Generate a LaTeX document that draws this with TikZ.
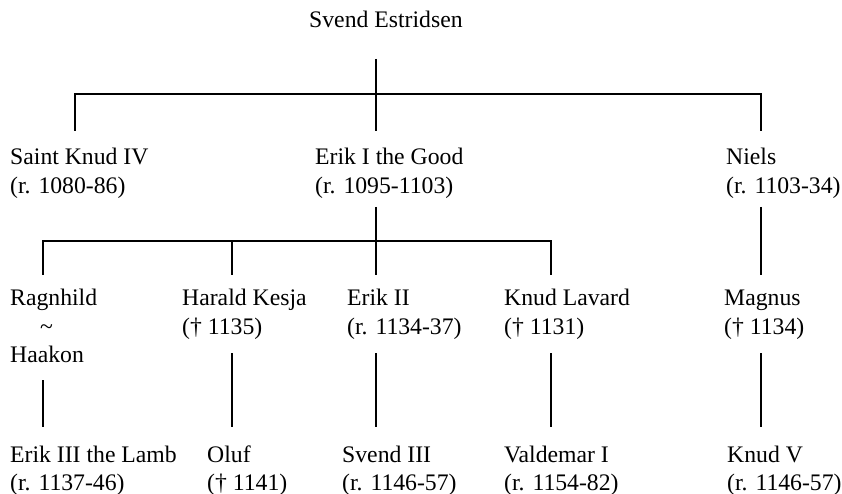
\documentclass[tikz,border=0pt]{standalone}
\usepackage{fontspec}
\setmainfont{Liberation Serif}
% stacked lines whose reference point is the baseline of the first line
\newcommand\famlines[1]{\begin{tabular}[t]{@{}l@{}}#1\end{tabular}}
\begin{document}
\begin{tikzpicture}[x=1bp, y=-1bp,
  person/.style={anchor=base west, inner sep=0pt,
    font=\fontsize{23.8}{28.5}\selectfont},
  link/.style={line width=2bp, line join=miter, line cap=butt}]
  \fill[white] (0,0) rectangle (842,494);
  \useasboundingbox (0,0) rectangle (842,494);

  % generation 0
  \node[person] (svend) at (309,28) {Svend Estridsen};

  % generation 1
  \node[person] (knud4)  at (10,165)  {\famlines{Saint Knud IV\\(r. 1080-86)}};
  \node[person] (erik1)  at (315,165) {\famlines{Erik I the Good\\(r. 1095-1103)}};
  \node[person] (niels)  at (726,165) {\famlines{Niels\\(r. 1103-34)}};

  % generation 2
  \node[person] (ragn)   at (10,306)  {\famlines{Ragnhild\\\hspace*{30bp}\char"7E\\Haakon}};
  \node[person] (harald) at (182,306) {\famlines{Harald Kesja\\(† 1135)}};
  \node[person] (erik2)  at (347,306) {\famlines{Erik II\\(r. 1134-37)}};
  \node[person] (lavard) at (504,306) {\famlines{Knud Lavard\\(† 1131)}};
  \node[person] (magnus) at (724,306) {\famlines{Magnus\\(† 1134)}};

  % generation 3
  \node[person] (erik3)  at (10,462)  {\famlines{Erik III the Lamb\\(r. 1137-46)}};
  \node[person] (oluf)   at (207,462) {\famlines{Oluf\\(† 1141)}};
  \node[person] (svend3) at (342,462) {\famlines{Svend III\\(r. 1146-57)}};
  \node[person] (valdemar) at (504,462) {\famlines{Valdemar I\\(r. 1154-82)}};
  \node[person] (knud5)  at (727,462) {\famlines{Knud V\\(r. 1146-57)}};

  % line end points
  \coordinate (svendB) at (376,59);
  \coordinate (knud4T) at (75,131);
  \coordinate (erik1T) at (376,131);
  \coordinate (nielsT) at (761,131);
  \coordinate (erik1B) at (376,207);
  \coordinate (nielsB) at (761,207);
  \coordinate (ragnT)  at (43,275);
  \coordinate (haraldT) at (232,275);
  \coordinate (erik2T) at (376,275);
  \coordinate (lavardT) at (551,275);
  \coordinate (magnusT) at (761,275);
  \coordinate (ragnB)  at (43,380);
  \coordinate (haraldB) at (232,353);
  \coordinate (erik2B) at (376,353);
  \coordinate (lavardB) at (551,353);
  \coordinate (magnusB) at (761,353);
  \coordinate (erik3T) at (43,427);
  \coordinate (olufT)  at (232,427);
  \coordinate (svend3T) at (376,427);
  \coordinate (valdemarT) at (551,427);
  \coordinate (knud5T) at (761,427);

  % Svend Estridsen's sons
  \draw[link] (svendB) -- (erik1T);
  \draw[link] (knud4T) -- (knud4T |- 0,94) -- (nielsT |- 0,94) -- (nielsT);

  % Erik I's children
  \draw[link] (erik1B) -- (erik2T);
  \draw[link] (ragnT) -- (ragnT |- 0,241) -- (lavardT |- 0,241) -- (lavardT);
  \draw[link] (haraldT) -- (haraldT |- 0,241);

  % Niels to Magnus
  \draw[link] (nielsB) -- (magnusT);

  % next generation
  \draw[link] (ragnB) -- (erik3T);
  \draw[link] (haraldB) -- (olufT);
  \draw[link] (erik2B) -- (svend3T);
  \draw[link] (lavardB) -- (valdemarT);
  \draw[link] (magnusB) -- (knud5T);
\end{tikzpicture}
\end{document}
